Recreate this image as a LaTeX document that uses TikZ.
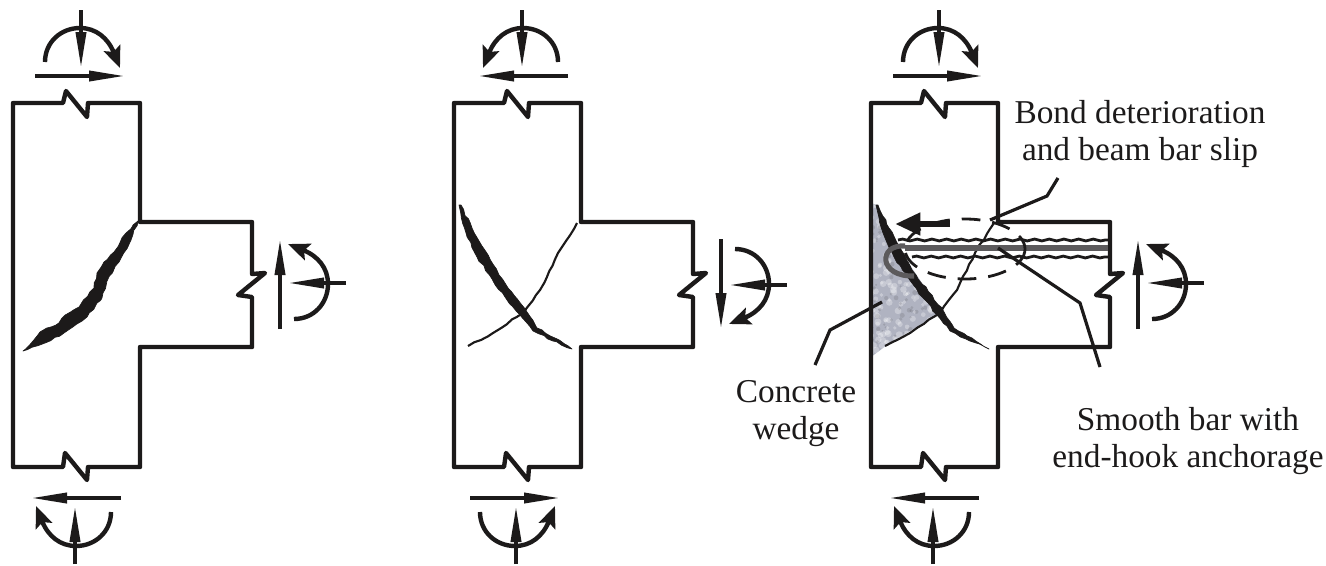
\documentclass[tikz,border=0pt]{standalone}
\usepackage{fontspec}
\setmainfont{Liberation Serif}
\usetikzlibrary{arrows.meta, decorations.pathmorphing}
\definecolor{ink}{HTML}{1C1A1A}
\definecolor{wedgegray}{HTML}{B0B3C1}
\definecolor{bargray}{HTML}{5C5A5C}

\begin{document}
\begin{tikzpicture}[
        x=0.75pt, y=-0.75pt,
        frame/.style={ink, line width=3.3pt, line join=round},
        crackfill/.style={fill=ink, draw=ink, line width=0.5pt, line join=round, decorate,
            decoration={random steps, segment length=4pt, amplitude=0.7pt}},
        hairline/.style={ink, line width=1.6pt, decorate, decoration={random steps, segment length=5pt, amplitude=0.6pt}},
        stem/.style={ink, line width=2.8pt, -{Triangle[length=27pt, width=7.5pt]}},
        swing/.style={ink, line width=3.3pt, -{Stealth[length=16pt, width=13pt, inset=3pt]}},
        rough/.style={ink, line width=2.1pt, decorate, decoration={snake, amplitude=0.7pt, segment length=11pt}},
        leader/.style={ink, line width=2.4pt, line join=miter},
        caption/.style={ink, align=center, font=\fontsize{25}{27.8}\selectfont, inner sep=0pt},
    ]
    \useasboundingbox (0,0) rectangle (1326,565);

    % concrete wedge
    \begin{scope}
        \clip (871,203) -- (877,205) -- (895,243) -- (920,280) -- (940,313) -- (887,345) -- (871,357) -- cycle;
        \fill[wedgegray] (860,195) rectangle (950,365);
        \pgfmathsetseed{7}
        \foreach \i in {1,...,240}
            \fill[white, opacity=0.3] ({868+rnd*80},{200+rnd*160}) circle[radius=1.5+2*rnd];
        \foreach \i in {1,...,120}
            \fill[ink, opacity=0.12] ({868+rnd*80},{200+rnd*160}) circle[radius=1+1.5*rnd];
    \end{scope}

    % joints
    \foreach \Dx in {0,441,858}
        \draw[frame, shift={(\Dx,0)}] (13,103) -- (63,103) -- (66,91) -- (87,117) -- (88,103) -- (140,103)
            -- (140,222) -- (252,222) -- (252,274) -- (265,273) -- (238,295) -- (252,297) -- (252,347)
            -- (140,347) -- (140,467) -- (88,467) -- (87,480) -- (65,453) -- (63,467) -- (13,467) -- cycle;

    % end actions
    \foreach \Cx/\Cy/\Rot/\Flip in {81/64/0/1, 75/510/180/1, 292/283/-90/-1,
            522/64/0/-1, 516/510/180/-1, 733/285/-90/1,
            939/64/0/1, 933/510/180/1, 1150/283/-90/-1} {
        \begin{scope}[shift={(\Cx,\Cy)}, rotate=\Rot, xscale=\Flip]
            \draw[stem] (0,-54) -- (0,4);
            \draw[stem] (-46,12) -- (44,12);
            \draw[swing] (-36,-2) .. controls (-36,-22) and (-20,-36) .. (-1,-36)
                .. controls (15,-36) and (27,-26) .. (39,4);
        \end{scope}
    }

    % first joint crack
    \fill[crackfill] (138,221) -- (126,233) -- (114,252) -- (104,262) -- (97,273) -- (94,288) -- (79,307)
        -- (62,318) -- (56,325) -- (40,332) -- (23,351) -- (45,343) -- (64,333) -- (87,317) -- (102,298)
        -- (107,281) -- (119,262) -- (131,240) -- cycle;

    % second and third joint cracks
    \foreach \Dx in {0,417} {
        \fill[crackfill, shift={(\Dx,0)}] (461,205) -- (472,228) -- (482,246) -- (499,275) -- (511,291)
            -- (527,312) -- (537,328) -- (555,338) -- (572,349) -- (553,341) -- (533,331) -- (520,315)
            -- (505,297) -- (492,279) -- (477,257) -- (466,233) -- (459,205) -- cycle;
        \draw[hairline, shift={(\Dx,0)}] (577,223) -- (558,253) -- (540,290) -- (523,313) -- (493,333) -- (468,346);
    }

    % smooth bar
    \draw[bargray, line width=5pt] (1108,248) -- (905,248);
    \draw[bargray, line width=3.8pt] (905,246) .. controls (878,244) and (878,277) .. (914,276);
    \draw[rough] (898,240) -- (1108,240);
    \draw[rough] (912,257) -- (1108,257);

    % bond zone
    \draw[ink, line width=2.1pt, dash pattern=on 14pt off 9pt] (965,249) ellipse[x radius=60, y radius=30];
    \draw[ink, line width=5pt, -{Triangle[length=19pt, width=16pt]}] (950,224) -- (895,224);

    \node[caption] (bond) at (1140,134) {Bond deterioration\\and beam bar slip};
    \node[caption] (smooth) at (1188,441) {Smooth bar with\\end-hook anchorage};
    \node[caption] (concrete) at (796,414) {Concrete\\wedge};

    \coordinate (bondtail) at (1058,178);
    \coordinate (slipzone) at (990,220);
    \coordinate (barpoint) at (998,248);
    \coordinate (smoothtail) at (1100,367);
    \coordinate (wedgepoint) at (882,302);
    \coordinate (wedgetail) at (815,365);

    \draw[leader] (bondtail) -- (1047,196) -- (slipzone);
    \draw[leader] (barpoint) -- (1080,303) -- (smoothtail);
    \draw[leader] (wedgepoint) -- (830,330) -- (wedgetail);
\end{tikzpicture}
\end{document}
